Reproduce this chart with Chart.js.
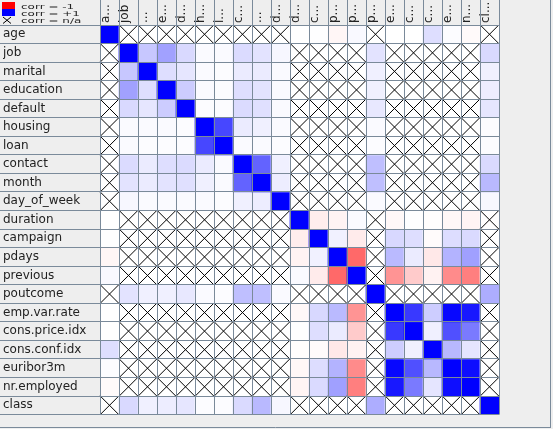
<!DOCTYPE html>
<html><head><meta charset="utf-8">
<script src="https://cdn.jsdelivr.net/npm/chart.js@4.4.0/dist/chart.umd.min.js"></script>
<style>html,body{margin:0;padding:0;background:#eeeeee;overflow:hidden}canvas{display:block}</style>
</head><body>
<canvas id="c" width="553" height="429"></canvas>
<script>
const variables = ['age','job','marital','education','default','housing','loan','contact','month','day_of_week','duration','campaign','pdays','previous','poutcome','emp.var.rate','cons.price.idx','cons.conf.idx','euribor3m','nr.employed','class'];
const headerLabels = ['a...','job','...','e...','d...','h...','l...','c...','...','d...','d...','c...','p...','p...','p...','e...','c...','c...','e...','n...','cl...'];
const N = null;
const rowAge       = [1, N,N,N,N,N,N,N,N,N, -0.001, 0.005, -0.034, 0.024, N, -0.0004, 0.001, 0.129, 0.011, -0.018, N];
const rowJob       = [N, 1, 0.22, 0.37, 0.15, 0.02, 0.02, 0.14, 0.11, 0.03, N,N,N,N, 0.11, N,N,N,N,N, 0.15];
const rowMarital   = [N, 0.22, 1, 0.13, 0.10, 0.02, 0.01, 0.08, 0.08, 0.02, N,N,N,N, 0.06, N,N,N,N,N, 0.06];
const rowEducation = [N, 0.37, 0.13, 1, 0.20, 0.02, 0.01, 0.13, 0.11, 0.02, N,N,N,N, 0.06, N,N,N,N,N, 0.07];
const rowDefault   = [N, 0.15, 0.10, 0.20, 1, 0.01, 0.01, 0.14, 0.12, 0.02, N,N,N,N, 0.09, N,N,N,N,N, 0.10];
const rowHousing   = [N, 0.02, 0.02, 0.02, 0.01, 1, 0.72, 0.08, 0.06, 0.02, N,N,N,N, 0.02, N,N,N,N,N, 0.01];
const rowLoan      = [N, 0.02, 0.01, 0.01, 0.01, 0.72, 1, 0.02, 0.02, 0.01, N,N,N,N, 0.01, N,N,N,N,N, 0.01];
const rowContact   = [N, 0.14, 0.08, 0.13, 0.14, 0.08, 0.02, 1, 0.61, 0.06, N,N,N,N, 0.25, N,N,N,N,N, 0.145];
const rowMonth     = [N, 0.11, 0.08, 0.11, 0.12, 0.06, 0.02, 0.61, 1, 0.07, N,N,N,N, 0.25, N,N,N,N,N, 0.275];
const rowDayOfWeek = [N, 0.03, 0.02, 0.02, 0.02, 0.02, 0.01, 0.06, 0.07, 1, N,N,N,N, 0.02, N,N,N,N,N, 0.03];
const rowDuration  = [-0.001, N,N,N,N,N,N,N,N,N, 1, -0.072, -0.048, 0.021, N, -0.028, 0.005, -0.008, -0.033, -0.045, N];
const rowCampaign  = [0.005, N,N,N,N,N,N,N,N,N, -0.072, 1, 0.053, -0.079, N, 0.151, 0.128, -0.014, 0.135, 0.144, N];
const rowPdays     = [-0.034, N,N,N,N,N,N,N,N,N, -0.048, 0.053, 1, -0.588, N, 0.271, 0.079, -0.091, 0.297, 0.373, N];
const rowPrevious  = [0.024, N,N,N,N,N,N,N,N,N, 0.021, -0.079, -0.588, 1, N, -0.42, -0.203, -0.051, -0.454, -0.501, N];
const rowPoutcome  = [N, 0.11, 0.06, 0.06, 0.09, 0.02, 0.01, 0.25, 0.25, 0.02, N,N,N,N, 1, N,N,N,N,N, 0.32];
const rowEmpVar    = [-0.0004, N,N,N,N,N,N,N,N,N, -0.028, 0.151, 0.271, -0.42, N, 1, 0.775, 0.196, 0.972, 0.907, N];
const rowConsPrice = [0.001, N,N,N,N,N,N,N,N,N, 0.005, 0.128, 0.079, -0.203, N, 0.775, 1, 0.059, 0.688, 0.522, N];
const rowConsConf  = [0.129, N,N,N,N,N,N,N,N,N, -0.008, -0.014, -0.091, -0.051, N, 0.196, 0.059, 1, 0.278, 0.101, N];
const rowEuribor   = [0.011, N,N,N,N,N,N,N,N,N, -0.033, 0.135, 0.297, -0.454, N, 0.972, 0.688, 0.278, 1, 0.945, N];
const rowNrEmp     = [-0.018, N,N,N,N,N,N,N,N,N, -0.045, 0.144, 0.373, -0.501, N, 0.907, 0.522, 0.101, 0.945, 1, N];
const rowClass     = [N, 0.15, 0.06, 0.07, 0.10, 0.01, 0.01, 0.145, 0.275, 0.03, N,N,N,N, 0.32, N,N,N,N,N, 1];

const matrix = [rowAge,rowJob,rowMarital,rowEducation,rowDefault,rowHousing,rowLoan,rowContact,rowMonth,rowDayOfWeek,rowDuration,rowCampaign,rowPdays,rowPrevious,rowPoutcome,rowEmpVar,rowConsPrice,rowConsConf,rowEuribor,rowNrEmp,rowClass];

const GRID = '#7a8a9a';
const TEXT = '#222222';
const FONT = {family: '"DejaVu Sans", sans-serif', size: 12};

function corrColor(v) {
  if (v === null) return '#ffffff';
  const k = Math.round(255 - 255 * Math.min(1, Math.abs(v)));
  return v >= 0 ? `rgb(${k},${k},255)` : `rgb(255,${k},${k})`;
}

const datasets = matrix.map((row, r) => ({
  type: 'bar',
  xAxisID: 'x',
  yAxisID: 'yv',
  data: variables.map(() => [r, r + 1]),
  backgroundColor: row.map(corrColor),
  borderWidth: 0,
  borderSkipped: false,
  barPercentage: 1,
  categoryPercentage: 1,
  grouped: false,
  order: 2
}));

const naPoints = [];
matrix.forEach((row, r) => row.forEach((v, c) => { if (v === null) naPoints.push({x: variables[c], y: r + 0.5}); }));
datasets.push({
  type: 'scatter',
  xAxisID: 'x',
  yAxisID: 'yv',
  data: naPoints,
  pointStyle: 'crossRot',
  borderColor: '#000000',
  backgroundColor: '#000000',
  borderWidth: 1,
  pointRadius: (ctx) => {
    const a = ctx.chart.chartArea;
    return a ? (a.right - a.left) / variables.length / 2 * Math.SQRT2 : 13.4;
  },
  pointHoverRadius: 0,
  order: 1
});

const decor = {
  id: 'decor',
  beforeDraw(chart) {
    const ctx = chart.ctx;
    ctx.save();
    ctx.fillStyle = '#eeeeee';
    ctx.fillRect(0, 0, chart.width, chart.height);
    ctx.restore();
  },
  afterDraw(chart) {
    const ctx = chart.ctx;
    ctx.save();
    // legend
    ctx.fillStyle = '#ff0000'; ctx.fillRect(2, 2, 13, 7);
    ctx.fillStyle = '#0000ff'; ctx.fillRect(2, 9, 13, 7);
    ctx.strokeStyle = '#000000'; ctx.lineWidth = 1;
    ctx.beginPath();
    ctx.moveTo(3, 17); ctx.lineTo(11, 23.5);
    ctx.moveTo(11, 17); ctx.lineTo(3, 23.5);
    ctx.stroke();
    ctx.fillStyle = TEXT;
    ctx.font = '12px "DejaVu Sans", sans-serif';
    ctx.textBaseline = 'alphabetic';
    [['corr = -1', 9.3], ['corr = +1', 16.3], ['corr = n/a', 23.3]].forEach(([t, y]) => {
      ctx.save(); ctx.translate(21, y); ctx.scale(1, 0.62); ctx.fillText(t, 0, 0); ctx.restore();
    });
    // outer frame
    ctx.strokeStyle = GRID;
    ctx.beginPath();
    ctx.moveTo(0, 427.5); ctx.lineTo(551, 427.5);
    ctx.moveTo(550.5, 0); ctx.lineTo(550.5, 428);
    ctx.stroke();
    ctx.restore();
  }
};

new Chart(document.getElementById('c'), {
  data: { labels: variables, datasets },
  options: {
    responsive: false,
    animation: false,
    devicePixelRatio: 1,
    events: [],
    layout: { padding: { left: 3, top: 0, right: 54, bottom: 5 } },
    plugins: { legend: { display: false }, tooltip: { enabled: false } },
    scales: {
      x: {
        type: 'category',
        position: 'top',
        offset: true,
        grid: { offset: true, color: GRID, lineWidth: 1, drawTicks: true, tickLength: 25, z: 1 },
        border: { display: true, color: GRID, z: 1 },
        ticks: {
          autoSkip: false, minRotation: 90, maxRotation: 90, padding: -23, labelOffset: 11,
          color: TEXT, font: FONT,
          callback: (v, i) => headerLabels[i]
        },
        afterFit: (s) => { s.height = 25; }
      },
      y: {
        type: 'category',
        position: 'left',
        labels: variables,
        offset: true,
        grid: { offset: true, color: GRID, lineWidth: 1, drawTicks: true, tickLength: 100, z: 1 },
        border: { display: true, color: GRID, z: 1 },
        ticks: { autoSkip: false, crossAlign: 'far', color: TEXT, font: FONT },
        afterFit: (s) => { s.width = 97; }
      },
      yv: {
        type: 'linear',
        display: false,
        min: 0, max: variables.length,
        reverse: true
      }
    }
  },
  plugins: [decor]
});
</script>
</body></html>
